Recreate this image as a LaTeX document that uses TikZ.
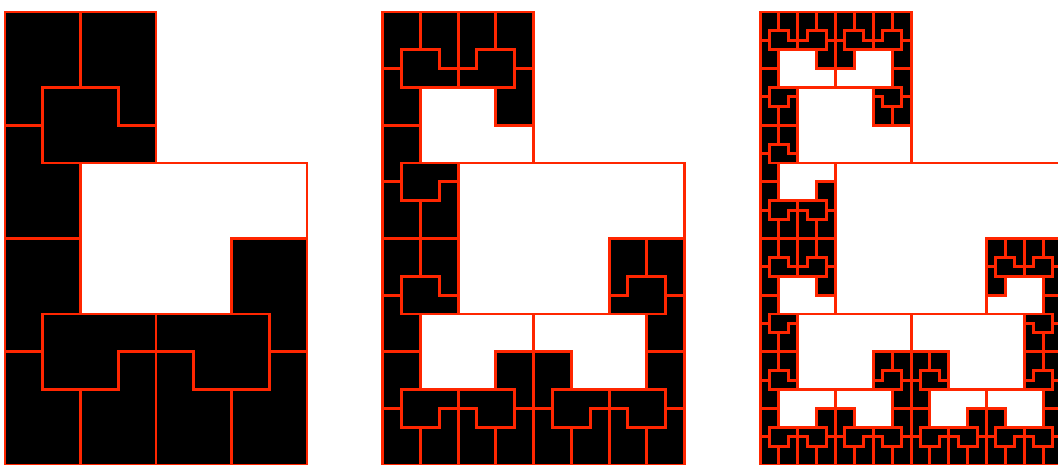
\documentclass[tikz,border=0pt]{standalone}
\definecolor{edgered}{RGB}{255,38,0}
\tikzset{
  blacktile/.style={fill=black, draw=edgered, line width=2.25pt, line join=miter},
  whitetile/.style={fill=white, draw=edgered, line width=2.25pt, line join=miter},
}
% four black sub-tiles of the canonical P pentomino (0,0)-(1,0)-(1,1)-(2,1)-(2,3)-(0,3)
\newcommand\leafP{%
  \filldraw[blacktile] (0,0) -- (1,0) -- (1,1) -- (0.5,1) -- (0.5,1.5) -- (0,1.5) -- cycle;
  \filldraw[blacktile] (0.5,1) -- (2,1) -- (2,1.5) -- (1.5,1.5) -- (1.5,2) -- (0.5,2) -- cycle;
  \filldraw[blacktile] (0,1.5) -- (0.5,1.5) -- (0.5,2) -- (1,2) -- (1,3) -- (0,3) -- cycle;
  \filldraw[blacktile] (2,1.5) -- (1.5,1.5) -- (1.5,2) -- (1,2) -- (1,3) -- (2,3) -- cycle;
}
\newcommand\fractP[1]{%
  \ifnum#1=0 \leafP
  \else
    \filldraw[whitetile] (0.5,1) -- (2,1) -- (2,1.5) -- (1.5,1.5) -- (1.5,2) -- (0.5,2) -- cycle;
    \begin{scope}[cm={0.5,0,0,-0.5,(0,1.5)}]\fractP{\the\numexpr#1-1\relax}\end{scope}
    \begin{scope}[cm={0.5,0,0,0.5,(0,1.5)}]\fractP{\the\numexpr#1-1\relax}\end{scope}
    \begin{scope}[cm={-0.5,0,0,0.5,(2,1.5)}]\fractP{\the\numexpr#1-1\relax}\end{scope}
  \fi}
\begin{document}
\begin{tikzpicture}[yscale=-1]
  \useasboundingbox (-0.1325,-0.318) rectangle (27.894,11.974);
  \begin{scope}[shift={(0,0)}, scale=4]\fractP{1}\end{scope}
  \begin{scope}[shift={(10,0)}, scale=4]\fractP{2}\end{scope}
  \begin{scope}[shift={(20,0)}, scale=4]\fractP{3}\end{scope}
\end{tikzpicture}
\end{document}
